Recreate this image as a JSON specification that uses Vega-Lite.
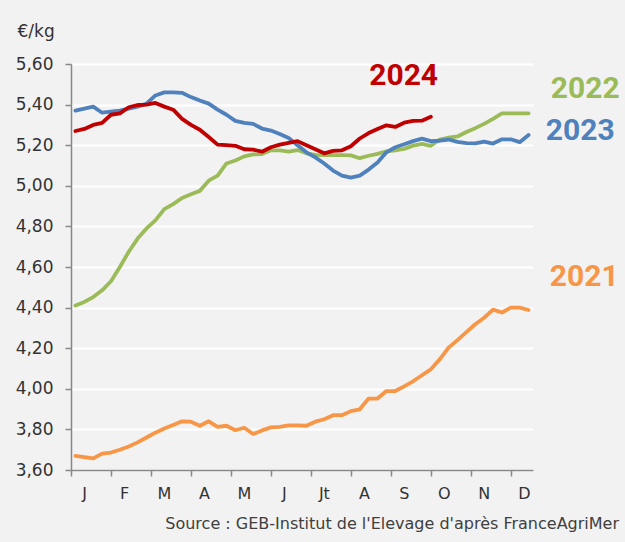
{
  "$schema": "https://vega.github.io/schema/vega-lite/v6.json",
  "width": 462,
  "height": 406,
  "autosize": {"type": "none"},
  "padding": {"left": 71, "top": 64, "right": 92, "bottom": 72},
  "background": "#f2f2f2",
  "config": {"view": {"stroke": null}, "font": "DejaVu Sans"},
  "title": {
    "text": "Source : GEB-Institut de l'Elevage d'après FranceAgriMer",
    "orient": "bottom",
    "anchor": "end",
    "frame": "group",
    "dx": 86,
    "offset": 15,
    "fontSize": 16,
    "fontWeight": "normal",
    "font": "DejaVu Sans",
    "color": "#404040"
  },
  "datasets": {
    "prices": [
      {"year": "2021", "week": 1, "price": 3.67}, {"year": "2021", "week": 2, "price": 3.664}, {"year": "2021", "week": 3, "price": 3.657}, {"year": "2021", "week": 4, "price": 3.681},
      {"year": "2021", "week": 5, "price": 3.686}, {"year": "2021", "week": 6, "price": 3.70}, {"year": "2021", "week": 7, "price": 3.716}, {"year": "2021", "week": 8, "price": 3.736},
      {"year": "2021", "week": 9, "price": 3.76}, {"year": "2021", "week": 10, "price": 3.784}, {"year": "2021", "week": 11, "price": 3.804}, {"year": "2021", "week": 12, "price": 3.822},
      {"year": "2021", "week": 13, "price": 3.84}, {"year": "2021", "week": 14, "price": 3.838}, {"year": "2021", "week": 15, "price": 3.818}, {"year": "2021", "week": 16, "price": 3.84},
      {"year": "2021", "week": 17, "price": 3.812}, {"year": "2021", "week": 18, "price": 3.818}, {"year": "2021", "week": 19, "price": 3.796}, {"year": "2021", "week": 20, "price": 3.808},
      {"year": "2021", "week": 21, "price": 3.777}, {"year": "2021", "week": 22, "price": 3.795}, {"year": "2021", "week": 23, "price": 3.81}, {"year": "2021", "week": 24, "price": 3.812},
      {"year": "2021", "week": 25, "price": 3.82}, {"year": "2021", "week": 26, "price": 3.82}, {"year": "2021", "week": 27, "price": 3.818}, {"year": "2021", "week": 28, "price": 3.838},
      {"year": "2021", "week": 29, "price": 3.85}, {"year": "2021", "week": 30, "price": 3.87}, {"year": "2021", "week": 31, "price": 3.87}, {"year": "2021", "week": 32, "price": 3.89},
      {"year": "2021", "week": 33, "price": 3.899}, {"year": "2021", "week": 34, "price": 3.952}, {"year": "2021", "week": 35, "price": 3.952}, {"year": "2021", "week": 36, "price": 3.989},
      {"year": "2021", "week": 37, "price": 3.989}, {"year": "2021", "week": 38, "price": 4.012}, {"year": "2021", "week": 39, "price": 4.037}, {"year": "2021", "week": 40, "price": 4.067},
      {"year": "2021", "week": 41, "price": 4.096}, {"year": "2021", "week": 42, "price": 4.145}, {"year": "2021", "week": 43, "price": 4.203}, {"year": "2021", "week": 44, "price": 4.24},
      {"year": "2021", "week": 45, "price": 4.279}, {"year": "2021", "week": 46, "price": 4.318}, {"year": "2021", "week": 47, "price": 4.35}, {"year": "2021", "week": 48, "price": 4.39},
      {"year": "2021", "week": 49, "price": 4.376}, {"year": "2021", "week": 50, "price": 4.40}, {"year": "2021", "week": 51, "price": 4.40}, {"year": "2021", "week": 52, "price": 4.388},

      {"year": "2022", "week": 1, "price": 4.41}, {"year": "2022", "week": 2, "price": 4.428}, {"year": "2022", "week": 3, "price": 4.452}, {"year": "2022", "week": 4, "price": 4.485},
      {"year": "2022", "week": 5, "price": 4.53}, {"year": "2022", "week": 6, "price": 4.6}, {"year": "2022", "week": 7, "price": 4.675}, {"year": "2022", "week": 8, "price": 4.74},
      {"year": "2022", "week": 9, "price": 4.79}, {"year": "2022", "week": 10, "price": 4.83}, {"year": "2022", "week": 11, "price": 4.885}, {"year": "2022", "week": 12, "price": 4.91},
      {"year": "2022", "week": 13, "price": 4.94}, {"year": "2022", "week": 14, "price": 4.958}, {"year": "2022", "week": 15, "price": 4.975}, {"year": "2022", "week": 16, "price": 5.025},
      {"year": "2022", "week": 17, "price": 5.05}, {"year": "2022", "week": 18, "price": 5.11}, {"year": "2022", "week": 19, "price": 5.125}, {"year": "2022", "week": 20, "price": 5.145},
      {"year": "2022", "week": 21, "price": 5.155}, {"year": "2022", "week": 22, "price": 5.156}, {"year": "2022", "week": 23, "price": 5.175}, {"year": "2022", "week": 24, "price": 5.175},
      {"year": "2022", "week": 25, "price": 5.168}, {"year": "2022", "week": 26, "price": 5.176}, {"year": "2022", "week": 27, "price": 5.16}, {"year": "2022", "week": 28, "price": 5.152},
      {"year": "2022", "week": 29, "price": 5.151}, {"year": "2022", "week": 30, "price": 5.151}, {"year": "2022", "week": 31, "price": 5.151}, {"year": "2022", "week": 32, "price": 5.15},
      {"year": "2022", "week": 33, "price": 5.136}, {"year": "2022", "week": 34, "price": 5.148}, {"year": "2022", "week": 35, "price": 5.157}, {"year": "2022", "week": 36, "price": 5.17},
      {"year": "2022", "week": 37, "price": 5.175}, {"year": "2022", "week": 38, "price": 5.182}, {"year": "2022", "week": 39, "price": 5.198}, {"year": "2022", "week": 40, "price": 5.207},
      {"year": "2022", "week": 41, "price": 5.197}, {"year": "2022", "week": 42, "price": 5.228}, {"year": "2022", "week": 43, "price": 5.237}, {"year": "2022", "week": 44, "price": 5.243},
      {"year": "2022", "week": 45, "price": 5.265}, {"year": "2022", "week": 46, "price": 5.284}, {"year": "2022", "week": 47, "price": 5.305}, {"year": "2022", "week": 48, "price": 5.33},
      {"year": "2022", "week": 49, "price": 5.357}, {"year": "2022", "week": 50, "price": 5.357}, {"year": "2022", "week": 51, "price": 5.357}, {"year": "2022", "week": 52, "price": 5.357},

      {"year": "2023", "week": 1, "price": 5.37}, {"year": "2023", "week": 2, "price": 5.38}, {"year": "2023", "week": 3, "price": 5.39}, {"year": "2023", "week": 4, "price": 5.36},
      {"year": "2023", "week": 5, "price": 5.365}, {"year": "2023", "week": 6, "price": 5.37}, {"year": "2023", "week": 7, "price": 5.38}, {"year": "2023", "week": 8, "price": 5.39},
      {"year": "2023", "week": 9, "price": 5.405}, {"year": "2023", "week": 10, "price": 5.445}, {"year": "2023", "week": 11, "price": 5.46}, {"year": "2023", "week": 12, "price": 5.46},
      {"year": "2023", "week": 13, "price": 5.458}, {"year": "2023", "week": 14, "price": 5.437}, {"year": "2023", "week": 15, "price": 5.42}, {"year": "2023", "week": 16, "price": 5.405},
      {"year": "2023", "week": 17, "price": 5.375}, {"year": "2023", "week": 18, "price": 5.35}, {"year": "2023", "week": 19, "price": 5.32}, {"year": "2023", "week": 20, "price": 5.31},
      {"year": "2023", "week": 21, "price": 5.305}, {"year": "2023", "week": 22, "price": 5.282}, {"year": "2023", "week": 23, "price": 5.272}, {"year": "2023", "week": 24, "price": 5.255},
      {"year": "2023", "week": 25, "price": 5.235}, {"year": "2023", "week": 26, "price": 5.20}, {"year": "2023", "week": 27, "price": 5.165}, {"year": "2023", "week": 28, "price": 5.14},
      {"year": "2023", "week": 29, "price": 5.11}, {"year": "2023", "week": 30, "price": 5.075}, {"year": "2023", "week": 31, "price": 5.05}, {"year": "2023", "week": 32, "price": 5.04},
      {"year": "2023", "week": 33, "price": 5.05}, {"year": "2023", "week": 34, "price": 5.08}, {"year": "2023", "week": 35, "price": 5.115}, {"year": "2023", "week": 36, "price": 5.165},
      {"year": "2023", "week": 37, "price": 5.19}, {"year": "2023", "week": 38, "price": 5.205}, {"year": "2023", "week": 39, "price": 5.22}, {"year": "2023", "week": 40, "price": 5.232},
      {"year": "2023", "week": 41, "price": 5.22}, {"year": "2023", "week": 42, "price": 5.222}, {"year": "2023", "week": 43, "price": 5.228}, {"year": "2023", "week": 44, "price": 5.216},
      {"year": "2023", "week": 45, "price": 5.21}, {"year": "2023", "week": 46, "price": 5.209}, {"year": "2023", "week": 47, "price": 5.218}, {"year": "2023", "week": 48, "price": 5.208},
      {"year": "2023", "week": 49, "price": 5.229}, {"year": "2023", "week": 50, "price": 5.229}, {"year": "2023", "week": 51, "price": 5.215}, {"year": "2023", "week": 52, "price": 5.25},

      {"year": "2024", "week": 1, "price": 5.27}, {"year": "2024", "week": 2, "price": 5.28}, {"year": "2024", "week": 3, "price": 5.30}, {"year": "2024", "week": 4, "price": 5.31},
      {"year": "2024", "week": 5, "price": 5.35}, {"year": "2024", "week": 6, "price": 5.357}, {"year": "2024", "week": 7, "price": 5.387}, {"year": "2024", "week": 8, "price": 5.398},
      {"year": "2024", "week": 9, "price": 5.40}, {"year": "2024", "week": 10, "price": 5.408}, {"year": "2024", "week": 11, "price": 5.39}, {"year": "2024", "week": 12, "price": 5.375},
      {"year": "2024", "week": 13, "price": 5.33}, {"year": "2024", "week": 14, "price": 5.30}, {"year": "2024", "week": 15, "price": 5.276}, {"year": "2024", "week": 16, "price": 5.24},
      {"year": "2024", "week": 17, "price": 5.203}, {"year": "2024", "week": 18, "price": 5.20}, {"year": "2024", "week": 19, "price": 5.197}, {"year": "2024", "week": 20, "price": 5.18},
      {"year": "2024", "week": 21, "price": 5.178}, {"year": "2024", "week": 22, "price": 5.168}, {"year": "2024", "week": 23, "price": 5.19}, {"year": "2024", "week": 24, "price": 5.203},
      {"year": "2024", "week": 25, "price": 5.212}, {"year": "2024", "week": 26, "price": 5.22}, {"year": "2024", "week": 27, "price": 5.20}, {"year": "2024", "week": 28, "price": 5.18},
      {"year": "2024", "week": 29, "price": 5.16}, {"year": "2024", "week": 30, "price": 5.172}, {"year": "2024", "week": 31, "price": 5.175}, {"year": "2024", "week": 32, "price": 5.195},
      {"year": "2024", "week": 33, "price": 5.233}, {"year": "2024", "week": 34, "price": 5.26}, {"year": "2024", "week": 35, "price": 5.28}, {"year": "2024", "week": 36, "price": 5.298},
      {"year": "2024", "week": 37, "price": 5.29}, {"year": "2024", "week": 38, "price": 5.311}, {"year": "2024", "week": 39, "price": 5.32}, {"year": "2024", "week": 40, "price": 5.321},
      {"year": "2024", "week": 41, "price": 5.34}
    ],
    "labels": [
      {"year": "2021", "week": 58.27, "price": 4.551},
      {"year": "2022", "week": 58.38, "price": 5.477},
      {"year": "2023", "week": 57.82, "price": 5.270},
      {"year": "2024", "week": 37.94, "price": 5.543}
    ]
  },
  "layer": [
    {
      "data": {"name": "prices"},
      "mark": {"type": "line", "strokeWidth": 3.8, "strokeCap": "round", "strokeJoin": "round"},
      "encoding": {
        "x": {
          "field": "week", "type": "quantitative",
          "scale": {"domain": [0.5, 52.5], "nice": false, "zero": false},
          "axis": {
            "title": null,
            "values": [0.5, 5, 9.5, 14, 18.5, 23, 27.5, 32, 36.5, 41, 45.5, 50],
            "labelExpr": "['J','F','M','A','M','J','Jt','A','S','O','N','D'][round((datum.value-0.5)/4.5)]",
            "labelOffset": 13,
            "labelFlush": false,
            "labelOverlap": false,
            "labelBound": false,
            "labelFontSize": 16,
            "labelColor": "#333333",
            "labelPadding": 9,
            "grid": false,
            "domainColor": "#888888",
            "domainWidth": 1.5,
            "tickColor": "#888888",
            "tickWidth": 1.5,
            "tickSize": 6
          }
        },
        "y": {
          "field": "price", "type": "quantitative",
          "scale": {"domain": [3.6, 5.6], "nice": false, "zero": false},
          "axis": {
            "title": "€/kg",
            "titleAngle": 0,
            "titleAlign": "left",
            "titleBaseline": "alphabetic",
            "titleX": -54,
            "titleY": -28,
            "titleFontSize": 17,
            "titleFontWeight": "normal",
            "titleColor": "#333333",
            "values": [3.6, 3.8, 4.0, 4.2, 4.4, 4.6, 4.8, 5.0, 5.2, 5.4, 5.6],
            "labelExpr": "replace(format(datum.value, '.2f'), '.', ',')",
            "labelFontSize": 17,
            "labelColor": "#333333",
            "labelPadding": 12,
            "grid": true,
            "gridColor": "#ffffff",
            "gridWidth": 2,
            "domainColor": "#888888",
            "domainWidth": 1.5,
            "tickColor": "#888888",
            "tickWidth": 1.5,
            "tickSize": 6
          }
        },
        "color": {
          "field": "year", "type": "nominal",
          "scale": {"domain": ["2021", "2022", "2023", "2024"], "range": ["#F79646", "#9BBB59", "#4F81BD", "#C00000"]},
          "legend": null
        }
      }
    },
    {
      "data": {"name": "labels"},
      "mark": {"type": "text", "font": "Roboto", "fontWeight": "bold", "fontSize": 30, "align": "center", "baseline": "middle"},
      "encoding": {
        "x": {"field": "week", "type": "quantitative"},
        "y": {"field": "price", "type": "quantitative"},
        "text": {"field": "year"},
        "color": {"field": "year", "type": "nominal", "legend": null}
      }
    }
  ]
}
